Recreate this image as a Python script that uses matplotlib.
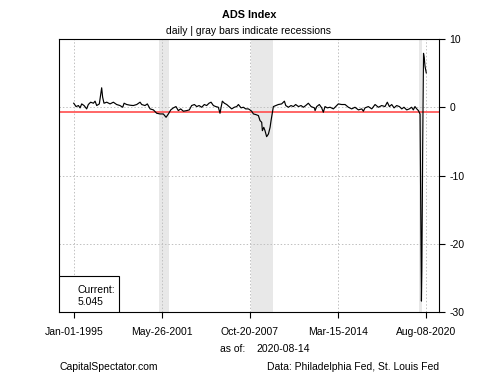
import pandas as pd
import matplotlib.pyplot as plt
import matplotlib.dates as mdates
from matplotlib.patches import Rectangle
import numpy as np

plt.rcParams['font.family'] = ['Liberation Sans', 'DejaVu Sans']
plt.rcParams['axes.unicode_minus'] = False

# ADS index (decimal year, value)
years = [
    1995.00, 1995.17, 1995.34, 1995.46, 1995.58, 1995.75, 1995.94, 1996.06, 1996.23, 1996.43,
    1996.55, 1996.67, 1996.86, 1997.03, 1997.10, 1997.20, 1997.40, 1997.64, 1997.88, 1998.12,
    1998.36, 1998.56, 1998.66, 1998.85, 1999.09, 1999.33, 1999.58, 1999.82, 1999.94, 2000.18,
    2000.35, 2000.55, 2000.79, 2001.03, 2001.27, 2001.51, 2001.71, 2001.88, 2002.05, 2002.24,
    2002.43, 2002.60, 2002.77, 2002.97, 2003.21, 2003.40, 2003.57, 2003.77, 2003.94, 2004.11,
    2004.30, 2004.49, 2004.66, 2004.83, 2004.98, 2005.15, 2005.32, 2005.51, 2005.63, 2005.71,
    2005.80, 2005.95, 2006.12, 2006.29, 2006.48, 2006.67, 2006.84, 2006.97, 2007.16, 2007.33,
    2007.50, 2007.69, 2007.81, 2007.93, 2008.06, 2008.23, 2008.42, 2008.54, 2008.66, 2008.71,
    2008.81, 2008.90, 2009.02, 2009.15, 2009.27, 2009.34, 2009.44, 2009.51, 2009.68, 2009.87,
    2010.11, 2010.31, 2010.41, 2010.60, 2010.79, 2010.96, 2011.13, 2011.33, 2011.52, 2011.69,
    2011.86, 2012.05, 2012.25, 2012.49, 2012.54, 2012.66, 2012.85, 2013.02, 2013.14, 2013.26,
    2013.43, 2013.63, 2013.87, 2014.11, 2014.23, 2014.47, 2014.72, 2014.96, 2015.20, 2015.44,
    2015.69, 2015.93, 2016.05, 2016.17, 2016.41, 2016.66, 2016.90, 2017.14, 2017.38, 2017.62,
    2017.79, 2017.94, 2018.11, 2018.28, 2018.47, 2018.67, 2018.84, 2019.00, 2019.20, 2019.39,
    2019.56, 2019.68, 2019.80, 2019.93, 2020.05, 2020.17, 2020.20, 2020.23, 2020.27, 2020.30,
    2020.36, 2020.42, 2020.47, 2020.53, 2020.62,
]
ads = [
    0.59, 0.10, 0.25, -0.09, 0.49, 0.25, -0.24, 0.40, 0.74, 0.59,
    0.89, 0.25, 0.49, 2.85, 1.48, 0.59, 0.74, 0.49, 0.74, 0.40,
    0.25, 0.00, 0.59, 0.40, 0.30, 0.25, 0.40, 0.74, 0.40, 0.25,
    0.49, -0.24, -0.39, -0.88, -0.98, -0.98, -1.47, -0.98, -0.39, -0.09,
    0.10, -0.49, -0.24, -0.58, -0.49, -0.39, 0.25, 0.40, 0.10, 0.25,
    0.00, 0.40, 0.25, 0.59, 0.74, 0.25, 0.10, 0.00, -0.88, 0.00,
    0.89, 0.59, 0.40, 0.10, -0.24, 0.00, 0.10, 0.40, -0.09, 0.00,
    -0.24, -0.24, -0.39, -0.58, -0.98, -1.07, -1.22, -1.96, -2.20, -3.43,
    -2.94, -3.43, -4.31, -3.92, -2.94, -1.96, -0.73, 0.10, 0.25, 0.40,
    0.49, 0.89, 0.25, 0.00, 0.25, 0.10, 0.40, 0.10, 0.25, 0.00,
    0.25, 0.59, 0.10, -0.09, -0.49, 0.10, 0.40, -0.09, -0.73, 0.10,
    -0.09, 0.00, -0.24, 0.25, 0.49, 0.40, 0.40, 0.00, -0.24, 0.00,
    -0.39, -0.24, -0.58, -0.09, 0.10, -0.24, 0.40, 0.00, 0.25, 0.10,
    0.74, 0.10, 0.40, -0.09, 0.25, 0.10, -0.24, 0.00, -0.39, -0.24,
    0.00, -0.39, 0.10, -0.24, -0.49, -1.00, -9.30, -18.0, -28.4, -24.0,
    -5.90, 7.90, 7.30, 6.00, 5.045,
]

recessions = [('2001-03-01', '2001-11-30'), ('2007-12-01', '2009-06-30'), ('2020-02-01', '2020-04-30')]
xticks = ['1995-01-01', '2001-05-26', '2007-10-20', '2014-03-15', '2020-08-08']
yticks = [10, 0, -10, -20, -30]
red_level = -0.75

dates = pd.Timestamp('1995-01-01') + pd.to_timedelta((np.array(years) - 1995) * 365.25, unit='D')

fig = plt.figure(figsize=(5, 3.75), dpi=100)
ax = fig.add_axes([0.118, 0.168, 0.76, 0.728])

for a, b in recessions:
    ax.axvspan(pd.Timestamp(a), pd.Timestamp(b), color='#e8e8e8', lw=0, zorder=0)

tick_dates = [pd.Timestamp(t) for t in xticks]
for t in tick_dates:
    ax.axvline(t, color='#c0c0c0', lw=0.7, ls=(0, (1.5, 2)), zorder=1)
for y in yticks:
    ax.axhline(y, color='#c0c0c0', lw=0.7, ls=(0, (1.5, 2)), zorder=1)

ax.axhline(red_level, color='#ff5a5a', lw=1.3, zorder=2)
ax.plot(dates, ads, color='black', lw=0.85, zorder=3)

ax.set_xlim(pd.Timestamp('1993-12-06'), pd.Timestamp('2021-07-19'))
ax.set_ylim(-30, 10)
ax.set_xticks(tick_dates)
ax.xaxis.set_major_formatter(mdates.DateFormatter('%b-%d-%Y'))
ax.yaxis.tick_right()
ax.set_yticks(yticks)
ax.tick_params(labelsize=7.5, length=4, width=0.8, colors='black')
ax.tick_params(axis='x', pad=7)
for s in ax.spines.values():
    s.set_linewidth(0.8)

# current value box
ax.add_patch(Rectangle((0, 0), 0.158, 0.132, transform=ax.transAxes,
                       facecolor='white', edgecolor='black', lw=0.8, zorder=4))
ax.text(0.05, 0.081, 'Current:', transform=ax.transAxes, fontsize=7.5, va='center', zorder=5)
ax.text(0.05, 0.037, f'{ads[-1]:.3f}', transform=ax.transAxes, fontsize=7.5, va='center', zorder=5)

fig.text(0.498, 0.96, 'ADS Index', ha='center', va='center', fontsize=7.8, fontweight='bold')
fig.text(0.498, 0.917, 'daily | gray bars indicate recessions', ha='center', va='center', fontsize=7.5)
fig.text(0.49, 0.07, 'as of:', ha='right', va='center', fontsize=7.5)
fig.text(0.512, 0.07, '2020-08-14', ha='left', va='center', fontsize=7.5)
fig.text(0.118, 0.022, 'CapitalSpectator.com', ha='left', va='center', fontsize=7.5)
fig.text(0.878, 0.022, 'Data: Philadelphia Fed, St. Louis Fed', ha='right', va='center', fontsize=7.5)

fig.savefig('out.png', dpi=100)
